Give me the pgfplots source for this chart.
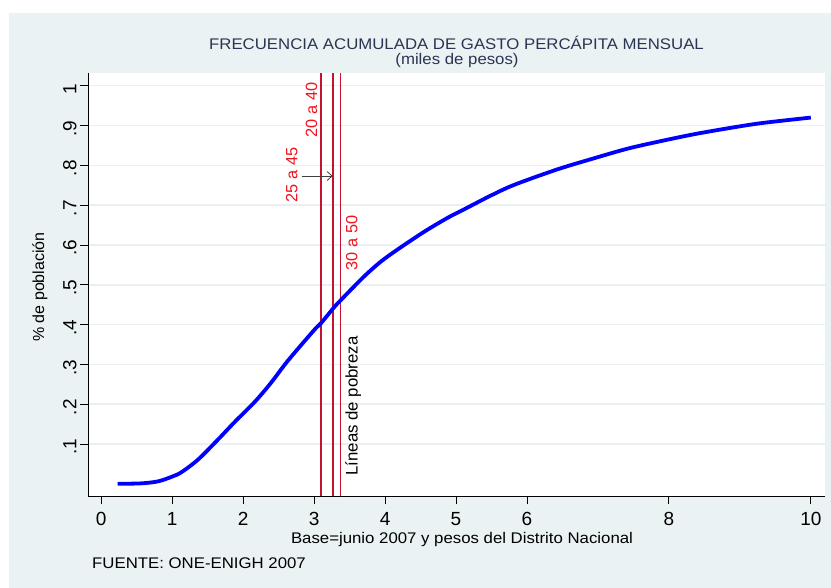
\documentclass[border=0pt]{standalone}
\usepackage{fontspec}
\setmainfont{Liberation Sans}
\usepackage{graphicx}
\usepackage{pgfplots}
\pgfplotsset{compat=1.18}
\usetikzlibrary{arrows.meta}
\definecolor{bgc}{HTML}{EAF2F3}
\definecolor{gridc}{HTML}{EAF0F2}
\definecolor{titlec}{HTML}{2A3552}
\definecolor{redline}{HTML}{C4122F}
\definecolor{redtext}{HTML}{F0141E}
\definecolor{curve}{HTML}{0000FF}
\newcommand{\fs}[1]{\fontsize{#1bp}{#1bp}\selectfont}
\newcommand{\sx}[1]{\scalebox{1.09}[1]{#1}}
\begin{document}
\begin{tikzpicture}
\fill[white] (-88bp,-92bp) rectangle (743bp,496bp);
\fill[bgc] (-79bp,-92bp) rectangle (743bp,483bp);
\begin{axis}[
  at={(0,0)}, anchor=south west,
  scale only axis, width=737bp, height=423bp,
  xmin=-0.186, xmax=10.2, ymin=-0.0307, ymax=1.032,
  axis x line*=bottom, axis y line*=left,
  axis background/.style={fill=white},
  axis line style={black, line width=0.8bp},
  xtick={0,1,2,3,4,5,6,8,10},
  ytick={0.1,0.2,0.3,0.4,0.5,0.6,0.7,0.8,0.9,1},
  yticklabels={.1,.2,.3,.4,.5,.6,.7,.8,.9,1},
  /pgf/number format/assume math mode=true,
  tick align=outside, major tick length=8bp,
  tick style={black, line width=0.8bp},
  ticklabel style={font=\fs{19}},
  yticklabel style={rotate=90, anchor=south, xshift=-3bp},
  xticklabel style={yshift=-5bp},
  ymajorgrids, grid style={gridc, line width=1.5bp},
]
\addplot[redline, line width=1.5bp] coordinates {(3.10,-0.0307) (3.10,1.032)};
\addplot[redline, line width=1.5bp] coordinates {(3.27,-0.0307) (3.27,1.032)};
\addplot[redline, line width=1.5bp] coordinates {(3.37,-0.0307) (3.37,1.032)};
\addplot[curve, line width=3.8bp, smooth, tension=0.5] coordinates {
(0.23,0.000) (0.56,0.001) (0.80,0.006) (1.00,0.018) (1.13,0.029) (1.36,0.060)
(1.64,0.110) (1.88,0.155) (2.16,0.205) (2.39,0.253) (2.63,0.309) (3.00,0.386)
(3.10,0.404) (3.29,0.445) (3.38,0.462) (3.70,0.520) (3.94,0.558) (4.18,0.589)
(4.55,0.633) (4.88,0.668) (5.12,0.690) (5.49,0.724) (5.82,0.751) (6.43,0.790)
(6.95,0.818) (7.42,0.842) (7.89,0.861) (8.35,0.878) (8.83,0.893) (9.30,0.906)
(10.0,0.920)};
\end{axis}
\node[titlec, inner sep=0, anchor=base, font=\fs{15.4}] at (368.5bp,446bp) {\sx{FRECUENCIA ACUMULADA DE GASTO PERCÁPITA MENSUAL}};
\node[titlec, inner sep=0, anchor=base, font=\fs{15.4}] at (369bp,431bp) {\sx{(miles de pesos)}};
\node[black, inner sep=0, font=\fs{16}, rotate=90] at (-48bp,209bp) {\% de población};
\node[black, inner sep=0, font=\fs{15.4}] at (374bp,-44bp) {\sx{Base=junio 2007 y pesos del Distrito Nacional}};
\node[black, inner sep=0, font=\fs{15.4}, anchor=west] at (4bp,-67bp) {\sx{FUENTE: ONE-ENIGH 2007}};
\node[redtext, inner sep=0, font=\fs{16.3}, rotate=90] at (223.5bp,386bp) {20 a 40};
\node[redtext, inner sep=0, font=\fs{16.3}, rotate=90] at (203.7bp,321bp) {25 a 45};
\node[redtext, inner sep=0, font=\fs{16.3}, rotate=90] at (263.7bp,253bp) {30 a 50};
\node[black, inner sep=0, font=\fs{16.8}, rotate=90] at (265.3bp,90bp) {Líneas de pobreza};
\draw[black!75, line width=0.8bp, -{Straight Barb[length=5bp,width=9bp]}] (213.7bp,320bp) -- (244.7bp,320bp);
\pgfresetboundingbox
\path (-88bp,-92bp) rectangle (743bp,496bp);
\end{tikzpicture}
\end{document}
